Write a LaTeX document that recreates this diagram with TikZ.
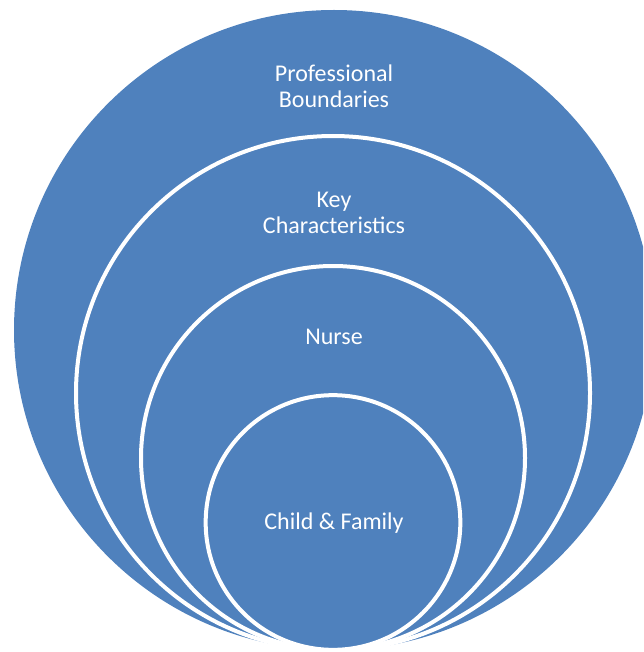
\documentclass[tikz,border=0pt]{standalone}
\usepackage{fontspec}
\setmainfont{Carlito}
\definecolor{ringblue}{HTML}{4F81BD}
\begin{document}
\begin{tikzpicture}[x=0.75pt,y=-0.75pt,
  ring/.style={circle, fill=ringblue, draw=white, line width=3pt, inner sep=0pt},
  label/.style={text=white, font=\fontsize{18}{19.5}\selectfont, align=center}]
\useasboundingbox (0,0) rectangle (643,652);
\clip (0,0) rectangle (643,652);
\node[ring, draw=none, minimum size=480pt] (outer) at (334,330) {};
\node[ring, minimum size=385.5pt] (key) at (333,393) {};
\node[ring, minimum size=288pt] (nurse) at (333,458) {};
\node[ring, minimum size=191pt] (child) at (333,522.5) {};
\node[label] (tprof) at (334,86) {Professional\\Boundaries};
\node[label] (tkey) at (334,213) {Key\\Characteristics};
\node[label] (tnurse) at (334,337) {Nurse};
\node[label] (tchild) at (334,523) {Child \& Family};
\end{tikzpicture}
\end{document}
